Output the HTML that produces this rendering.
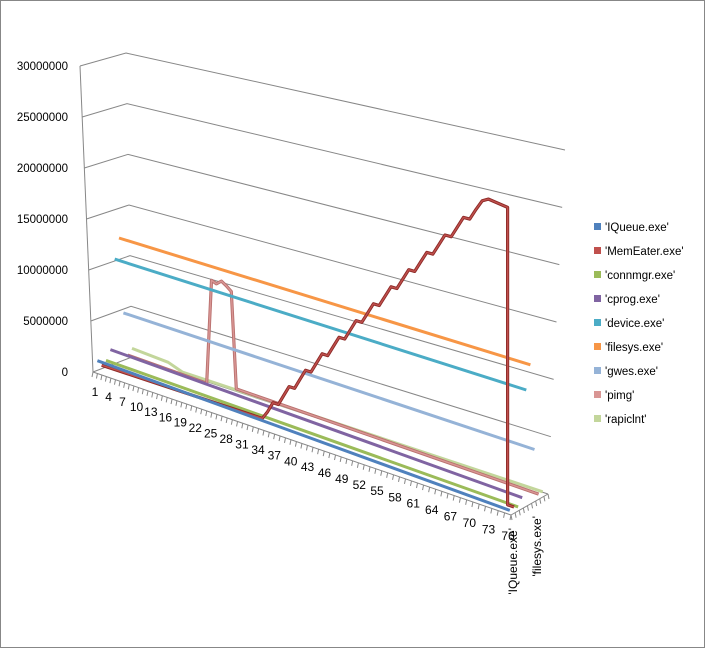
<!DOCTYPE html>
<html><head><meta charset="utf-8">
<style>
html,body{margin:0;padding:0;background:#fff;}
svg{display:block;font-family:"Liberation Sans",sans-serif;}
</style></head>
<body>
<svg id="chart" width="706" height="649" viewBox="0 0 706 649" xmlns="http://www.w3.org/2000/svg">
<rect x="0.5" y="0.5" width="704" height="647" fill="#fff" stroke="#878787"/>
<g id="walls"></g><g id="series"></g><g id="axes"></g><g id="legend"></g>
</svg>
<script>
// ---- data (values in bytes) ----
const seriesNames = ["'IQueue.exe'","'MemEater.exe'","'connmgr.exe'","'cprog.exe'","'device.exe'","'filesys.exe'","'gwes.exe'","'pimg'","'rapiclnt'"];
const seriesColors = ["#4f81bd","#c0504d","#9bbb59","#8064a2","#4bacc6","#f79646","#95b3d7","#d99694","#c3d69b"];
const yTicks = [0,5000000,10000000,15000000,20000000,25000000,30000000];
const xTickLabels = ["1","4","7","10","13","16","19","22","25","28","31","34","37","40","43","46","49","52","55","58","61","64","67","70","73","76"];
const depthLabels = ["'IQueue.exe'","'filesys.exe'"];
// breakpoint indices and values per series (straight segments between)
const iqueueX = [1,77];            const iqueueV = [1100000,200000];
const memeaterX = [1,34,35,36,37,38,39,40,41,42,43,44,45,46,47,48,49,50,51,52,53,54,55,56,57,58,59,60,61,62,63,64,65,66,67,68,69,70,71,72,73,76,76,77];
const memeaterV = [500000,600000,1400000,2400000,2400000,3400000,4400000,4400000,5400000,6400000,6400000,7400000,8400000,8400000,9400000,10400000,10400000,11400000,12400000,12400000,13400000,14400000,14400000,15400000,16400000,16400000,17400000,18400000,18400000,19400000,20400000,20400000,21400000,22400000,22400000,23400000,24400000,24400000,25400000,26300000,26600000,26300000,300000,300000];
const connmgrX = [1,77];           const connmgrV = [800000,100000];
const cprogX = [1,77];             const cprogV = [1700000,700000];
const deviceX = [1,77];            const deviceV = [10400000,9900000];
const filesysX = [1,77];           const filesysV = [12300000,11900000];
const gwesX = [1,77];              const gwesV = [4800000,4300000];
const pimgX = [1,18,19,20,21,22,23,24,77];
const pimgV = [500000,300000,10300000,10100000,10500000,10200000,9800000,700000,200000];
const rapiclntX = [1,9,12,77];     const rapiclntV = [1000000,800000,300000,200000];
const seriesX = [iqueueX,memeaterX,connmgrX,cprogX,deviceX,filesysX,gwesX,pimgX,rapiclntX];
const seriesV = [iqueueV,memeaterV,connmgrV,cprogV,deviceV,filesysV,gwesV,pimgV,rapiclntV];

// ---- projection ----
const NS="http://www.w3.org/2000/svg";
const N=77, K=9, VMAX=30000000;
const A=[93,372], B=[511,515], C=[132,357], D=[548,494];
function lerp(a,b,t){return a+(b-a)*t;}
function warp(t){return 0.816*t+0.184*t*t;}
function proj(i,k,v){
  const u=warp((i-0.5)/N), w=(k+0.5)/K;
  const fx=lerp(A[0],B[0],u), fy=lerp(A[1],B[1],u);
  const bx=lerp(C[0],D[0],u), by=lerp(C[1],D[1],u);
  const x=lerp(fx,bx,w), y=lerp(fy,by,w);
  const h=306+38*u;
  return [x, y - v/VMAX*h];
}
function mk(tag,attrs,parent){const e=document.createElementNS(NS,tag);for(const k in attrs)e.setAttribute(k,attrs[k]);parent.appendChild(e);return e;}

// walls / gridlines
const walls=document.getElementById('walls');
yTicks.forEach((v,j)=>{
  const f=v/VMAX;
  const lf=[lerp(93,80,f), 372-306*f];
  const lb=[lerp(132,126,f), 357-304*f];
  const rb=[548+17*f, 494-344*f];
  const g=mk('polyline',{points:`${lf[0]},${lf[1]} ${lb[0]},${lb[1]} ${rb[0]},${rb[1]}`,fill:'none',stroke:'#878787','stroke-width':1},walls);
  
  
  const t=mk('text',{x:68,y:lf[1]+4,'text-anchor':'end','font-size':'11.5',fill:'#000'},walls);
  t.textContent=String(v);
  
  
});
const yAxis=mk('line',{x1:80,y1:66,x2:93,y2:372,stroke:'#878787'},walls);



// series (back to front)
const sg=document.getElementById('series');
for(let k=K-1;k>=0;k--){
  const xs=seriesX[k], vs=seriesV[k];
  const pts=xs.map((x,j)=>proj(x,k,vs[j]).map(n=>n.toFixed(1)).join(',')).join(' ');
  const dark = (k===1)?'#8c2a27':(k===7?'#b9706e':null);
  if(dark){
    const o=mk('polyline',{points:pts,fill:'none',stroke:dark,'stroke-width':3.2,'stroke-linejoin':'round'},sg);
    
    
  }
  const p=mk('polyline',{points:pts,fill:'none',stroke:seriesColors[k],'stroke-width':dark?1.4:3,'stroke-linejoin':'round'},sg);
  
  
}

// axes: front edge ticks, depth edge, labels
const ax=document.getElementById('axes');
const fe=mk('line',{x1:A[0],y1:A[1],x2:B[0],y2:B[1],stroke:'#878787'},ax);


const de=mk('line',{x1:B[0],y1:B[1],x2:D[0],y2:D[1],stroke:'#878787'},ax);


for(let i=0;i<=N;i++){
  const u=warp(i/N);
  const x=lerp(A[0],B[0],u), y=lerp(A[1],B[1],u);
  const t=mk('line',{x1:x,y1:y,x2:x-1,y2:y+5,stroke:'#878787'},ax);
  
  
}
for(let k=0;k<=K;k++){
  const w=k/K;
  const x=lerp(B[0],D[0],w), y=lerp(B[1],D[1],w);
  const t=mk('line',{x1:x,y1:y,x2:x+1,y2:y+5,stroke:'#878787'},ax);
  
  
}
xTickLabels.forEach((lab)=>{
  const t0=(Number(lab)-1)/75;
  const x=95+337*t0+76*t0*t0, y=392+122*t0+22*t0*t0;
  const t=mk('text',{x:x,y:y+4,'text-anchor':'middle','font-size':'12',fill:'#000'},ax);
  t.textContent=lab;
  
  
});
[[517,528],[541,516]].forEach((p,j)=>{
  const t=mk('text',{x:0,y:0,transform:`translate(${p[0]},${p[1]}) rotate(-90)`,'text-anchor':'end','font-size':'12',fill:'#000'},ax);
  t.textContent=depthLabels[j];
  
  
});

// legend
const lg=document.getElementById('legend');
seriesNames.forEach((n,k)=>{
  const y=227+24*k;
  const g=mk('g',{},lg);
  
  
  mk('rect',{x:594,y:y-4,width:7,height:7,fill:seriesColors[k]},g);
  const t=mk('text',{x:605,y:y+4,'font-size':'11.5',fill:'#000'},g);
  t.textContent=n;
});
</script>
</body></html>
